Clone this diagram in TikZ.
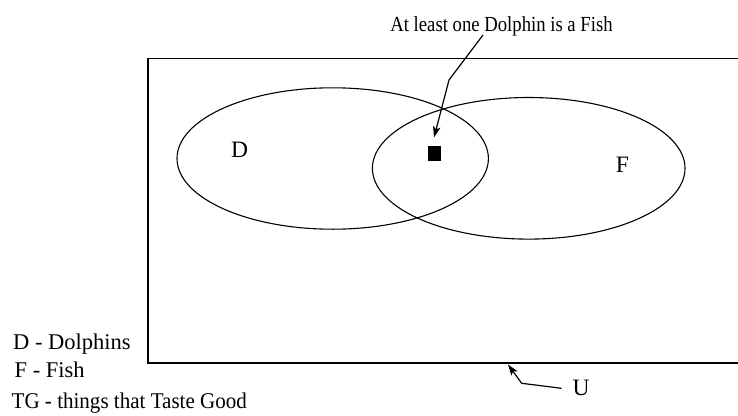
\documentclass[tikz,border=0pt]{standalone}
\usepackage{fontspec}
\setmainfont{Liberation Serif}
\usetikzlibrary{shapes.geometric,arrows.meta}
\tikzset{
  setshape/.style={draw, ellipse, line width=1.1pt, inner sep=0pt},
  ptr/.style={line width=1.2pt, -{Stealth[length=11pt,width=7.5pt,inset=2.5pt]}},
  big/.style={font=\fontsize{23.5}{24}\selectfont, inner sep=0pt},
  legend/.style={font=\fontsize{22.5}{24}\selectfont, inner sep=0pt, anchor=base west},
  lbl/.style={font=\fontsize{21.5}{24}\selectfont, inner sep=0pt, anchor=base, xscale=0.87}
}
\begin{document}
\begin{tikzpicture}[x=1pt,y=-1pt]
\useasboundingbox (0,0) rectangle (738,415);
\clip (0,0) rectangle (738,415);
% universe
\draw[line width=1.6pt] (760,58.3) -- (148,58.3) -- (148,362.7) -- (760,362.7);
% sets
\node[setshape, minimum width=311.4pt, minimum height=141.4pt] (Dset) at (332.7,158.5) {};
\node[setshape, minimum width=312.6pt, minimum height=141.6pt] (Fset) at (528.7,168.3) {};
\node[big, anchor=base] (Dl) at (239.5,157.3) {D};
\node[big, anchor=base] (Fl) at (622.5,172.3) {F};
% element
\node[fill=black, minimum width=13pt, minimum height=15pt, inner sep=0pt] (sq) at (434.7,153.5) {};
% top label and pointer
\node[lbl] (top) at (501.5,31) {At least one Dolphin is a Fish};
\coordinate (s1) at (483,35);
\coordinate (b1) at (449,80);
\coordinate (t1) at (434,137.5);
\draw[ptr] (s1) -- (b1) -- (t1);
% U label and pointer
\node[big, anchor=base west] (U) at (572.5,395) {U};
\coordinate (s2) at (561.5,388.3);
\coordinate (b2) at (521.7,383.3);
\coordinate (t2) at (508,364.5);
\draw[ptr] (s2) -- (b2) -- (t2);
% legend
\node[legend] (L1) at (13,349) {D - Dolphins};
\node[legend] (L2) at (14.5,377) {F - Fish};
\node[legend, xscale=0.935] (L3) at (11.5,408) {TG - things that Taste Good};
\end{tikzpicture}
\end{document}
